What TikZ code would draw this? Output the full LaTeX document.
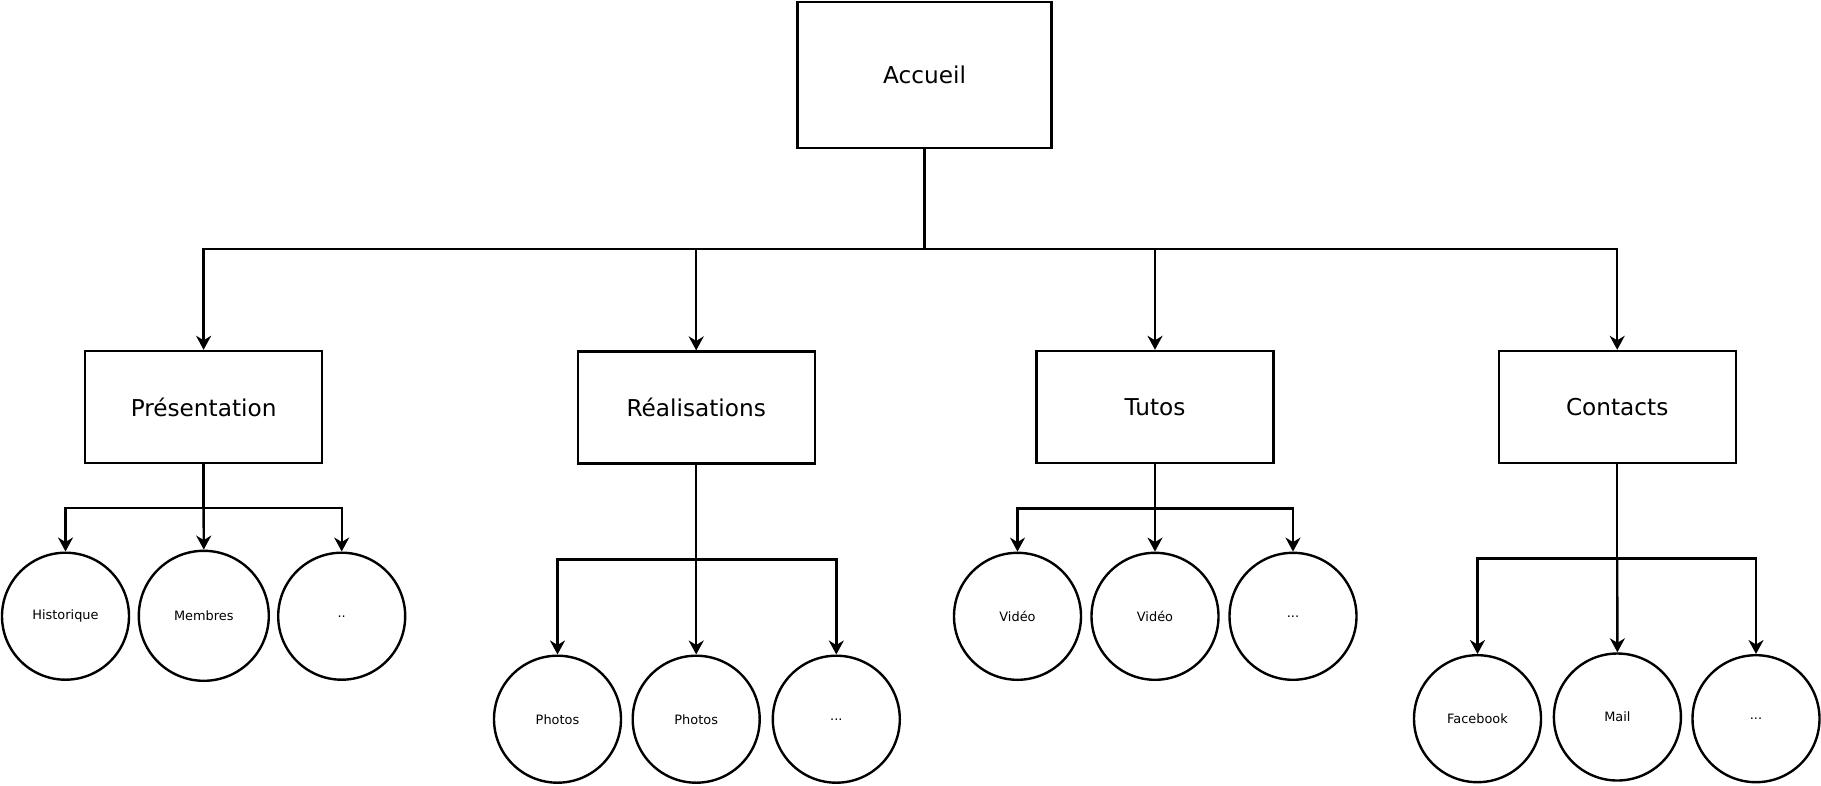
\documentclass[tikz,border=0pt]{standalone}
\usepackage{fontspec}
\setmainfont{DejaVu Sans}
\usetikzlibrary{arrows.meta}
\tikzset{
  pagebox/.style={draw=black, line width=2.4pt, rectangle, minimum width=237pt, minimum height=112pt, inner sep=0pt, font=\fontsize{23.2}{28}\selectfont},
  topbox/.style={pagebox, minimum width=254pt, minimum height=146pt},
  leaf/.style={draw=black, line width=2.4pt, circle, minimum size=127pt, inner sep=0pt, font=\fontsize{12.9}{15}\selectfont},
  conn/.style={line width=2.4pt, -{Stealth[length=14pt, width=15pt, inset=4.5pt]}},
  plain/.style={line width=2.4pt}
}
\begin{document}
\begin{tikzpicture}[x=1pt, y=-1pt]
\useasboundingbox (0,0) rectangle (1821,785);
% top
\node[topbox] (acc) at (924.6,75) {Accueil};
% second level
\node[pagebox] (pres) at (203.6,407) {Présentation};
\node[pagebox] (real) at (696.2,407.6) {Réalisations};
\node[pagebox] (tuto) at (1155,407) {Tutos};
\node[pagebox] (cont) at (1617.2,407) {Contacts};
% leaves
\node[leaf] (hist) at (65.5,616.2) {Historique};
\node[leaf, minimum size=130pt] (memb) at (203.8,615.8) {Membres};
\node[leaf] (pdots) at (341.7,616.2) {..};
\node[leaf] (pho1) at (557.5,719.2) {Photos};
\node[leaf] (pho2) at (696.2,719.2) {Photos};
\node[leaf] (rdots) at (836.3,719.2) {...};
\node[leaf] (vid1) at (1017.5,616.3) {Vidéo};
\node[leaf] (vid2) at (1155,616.3) {Vidéo};
\node[leaf] (tdots) at (1293,616.3) {...};
\node[leaf] (fb) at (1477.5,718.7) {Facebook};
\node[leaf] (mail) at (1617.4,717) {Mail};
\node[leaf] (cdots) at (1756,718.7) {...};
% bus points
\coordinate (bus) at (924.6,249);
\coordinate (pbus) at (203.6,507.7);
\coordinate (rbus) at (696.2,559.3);
\coordinate (tbus) at (1155,508.3);
\coordinate (cbus) at (1617.2,558.3);
% top level connectors
\draw[plain] (acc.south) -- (bus);
\draw[conn] (bus) -| (pres.north);
\draw[conn] (bus) -| (real.north);
\draw[conn] (bus) -| (tuto.north);
\draw[conn] (bus) -| (cont.north);
% Présentation
\draw[plain] (pres.south) -- (pbus);
\draw[conn] (pbus) -| (hist.north);
\draw[conn] (pbus) -- (memb.north);
\draw[conn] (pbus) -| (pdots.north);
% Réalisations
\draw[plain] (real.south) -- (rbus);
\draw[conn] (rbus) -| (pho1.north);
\draw[conn] (rbus) -- (pho2.north);
\draw[conn] (rbus) -| (rdots.north);
% Tutos
\draw[plain] (tuto.south) -- (tbus);
\draw[conn] (tbus) -| (vid1.north);
\draw[conn] (tbus) -- (vid2.north);
\draw[conn] (tbus) -| (tdots.north);
% Contacts
\draw[plain] (cont.south) -- (cbus);
\draw[conn] (cbus) -| (fb.north);
\draw[conn] (cbus) -- (mail.north);
\draw[conn] (cbus) -| (cdots.north);
\end{tikzpicture}
\end{document}
